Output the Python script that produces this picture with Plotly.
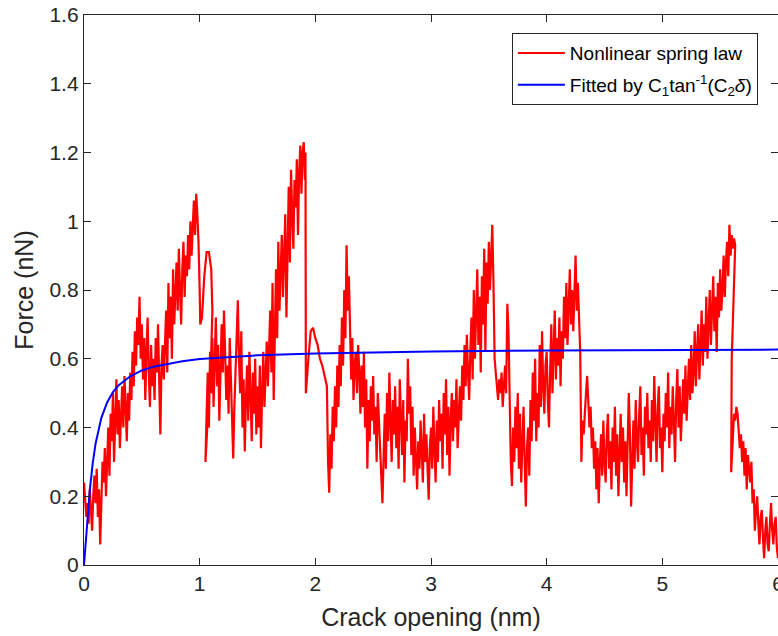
import plotly.graph_objects as go

# ---- data ----
# Rows of force values sampled every 0.01 nm of crack opening, starting at the given opening.
STEP = 0.01

start_0 = 0.00
force_0 = [0.24,0.20,0.14,0.18,0.12,0.22,0.16,0.10,0.20,0.26,
           0.18,0.28,0.14,0.22,0.06,0.16,0.30,0.24,0.34,0.20,
           0.32,0.40,0.26,0.44,0.36,0.50,0.30,0.46,0.54,0.38,
           0.48,0.34,0.44,0.52,0.40,0.55,0.46,0.36,0.50,0.42,
           0.56,0.48,0.62,0.52,0.68,0.58,0.72,0.64,0.78,0.60,
           0.70,0.54,0.66,0.48,0.62,0.72,0.56,0.46,0.64,0.52,
           0.60,0.48,0.66,0.56,0.70,0.52,0.38,0.58,0.64,0.54,
           0.62,0.74,0.56,0.82,0.66,0.78,0.60,0.86,0.70,0.80,
           0.88,0.74,0.92,0.80,0.70,0.86,0.94,0.78,0.90,0.84,
           0.96,0.86,1.00,0.90,0.98,1.06,0.96,1.08,1.02,0.94]

loop_opening = [1.00,1.005,1.02,1.04,1.06,1.08,1.10,1.11,1.10,1.08,1.06,1.05]
loop_force = [0.80,0.70,0.72,0.84,0.91,0.91,0.86,0.74,0.62,0.48,0.34,0.30]

start_1 = 1.06
force_1 = [0.44,0.56,0.40,0.62,
           0.50,0.66,0.46,0.58,0.72,0.52,0.64,0.42,0.60,0.70,
           0.56,0.74,0.62,0.48,0.58,0.44,0.66,0.52,0.40,0.31,
           0.46,0.58,0.66,0.77,0.60,0.50,0.68,0.40,0.54,0.33,
           0.48,0.58,0.42,0.62,0.50,0.36,0.56,0.44,0.60,0.38,
           0.52,0.40,0.58,0.34,0.50,0.62,0.46,0.56,0.65,0.52,
           0.62,0.74,0.56,0.82,0.48,0.70,0.86,0.66,0.94,0.74,
           0.84,0.96,0.78,0.92,1.02,0.72,0.98,1.10,0.88,1.15,
           1.02,0.92,1.12,1.04,1.18,0.96,1.14,1.22,1.08,1.20,
           1.23,1.12]

peak_opening = [1.915,1.918,1.94,1.96,1.98,2.00,2.02,2.04,2.06,2.08,2.10]
peak_force = [1.20,0.50,0.60,0.68,0.69,0.66,0.64,0.60,0.58,0.55,0.52]

start_2 = 2.11
force_2 = [0.30,0.21,0.38,0.28,0.46,0.36,0.52,0.40,0.58,
           0.46,0.64,0.52,0.72,0.58,0.80,0.66,0.93,0.74,0.84,
           0.62,0.54,0.66,0.48,0.58,0.62,0.50,0.64,0.56,0.44,
           0.58,0.46,0.62,0.40,0.54,0.28,0.48,0.36,0.52,0.42,
           0.55,0.38,0.46,0.30,0.50,0.40,0.34,0.26,0.18,0.36,
           0.44,0.28,0.50,0.36,0.56,0.42,0.30,0.48,0.38,0.52,
           0.34,0.46,0.28,0.54,0.40,0.32,0.48,0.24,0.42,0.36,
           0.60,0.44,0.52,0.32,0.46,0.26,0.40,0.30,0.22,0.36,
           0.28,0.42,0.34,0.24,0.44,0.30,0.38,0.26,0.19,0.34,
           0.40,0.28,0.46,0.34,0.24,0.42,0.30,0.48,0.36,0.44,
           0.28,0.50,0.38,0.54,0.32,0.46,0.26,0.42,0.50,0.36,
           0.48,0.40,0.54,0.34,0.46,0.52,0.42,0.58,0.48,0.64,
           0.52,0.67,0.56,0.48,0.62,0.72,0.54,0.80,0.60,0.76,
           0.86,0.64,0.78,0.56,0.84,0.70,0.92,0.62,0.88,0.76,
           0.94,0.80,0.90,0.99,0.82,0.60,0.56]

start_3 = 3.57
force_3 = [0.52,0.48,0.54,
           0.50,0.56,0.46,0.52,0.58,0.50,0.76,0.68,0.40,0.30,
           0.23,0.40,0.30,0.46,0.34,0.50,0.28,0.44,0.24,0.38,
           0.46,0.30,0.17,0.34,0.40,0.26,0.48,0.36,0.56,0.42,
           0.60,0.36,0.50,0.40,0.64,0.46,0.68,0.52,0.44,0.58,
           0.62,0.48,0.40,0.56,0.70,0.50,0.64,0.74,0.54,0.66,
           0.58,0.72,0.52,0.68,0.60,0.78,0.66,0.82,0.64,0.76,
           0.86,0.70,0.80,0.68,0.84,0.90,0.74,0.82,0.72,0.62,
           0.30,
           0.42,0.38,0.46,0.50,0.55,0.48,0.40,0.46,0.34,
           0.40,0.28,0.36,0.22,0.34,0.18,0.30,0.38,0.26,0.42,
           0.30,0.24,0.38,0.44,0.28,0.36,0.22,0.40,0.30,0.46,
           0.26,0.38,0.20,0.34,0.44,0.30,0.40,0.24,0.36,0.20,
           0.34,0.50,0.38,0.17,0.30,0.42,0.28,0.48,0.36,0.30,
           0.44,0.52,0.32,0.40,0.26,0.46,0.38,0.50,0.34,0.42,
           0.30,0.48,0.36,0.55,0.42,0.30,0.46,0.52,0.34,0.40,
           0.27,0.44,0.36,0.50,0.40,0.56,0.34,0.46,0.38,0.52,
           0.42,0.30,0.48,0.57,0.40,0.52,0.36,0.46,0.54,0.44,
           0.58,0.42,0.52,0.60,0.48,0.64,0.50,0.56,0.68,0.52,
           0.62,0.70,0.54,0.66,0.74,0.58,0.70,0.62,0.78,0.60,
           0.72,0.80,0.64,0.76,0.84,0.68,0.78,0.62,0.82,0.72,
           0.86,0.74,0.80,0.90,0.78,0.88,0.94,0.84,0.99]

drop_opening = [5.59,5.60,5.61,5.62,5.63,5.60,5.595]
drop_force = [0.90,0.96,0.92,0.95,0.93,0.60,0.27]

start_4 = 5.61
force_4 = [0.40,0.44,0.42,0.46,0.44,0.40,0.34,0.38,0.30,0.36,
           0.26,0.34,0.22,0.32,0.28,0.24,0.30,0.18,0.22,0.10,
           0.16,0.20,0.12,0.06,0.14,0.16,0.08,0.02,0.10,0.14,
           0.06,0.04,0.12,0.18,0.10,0.06,0.12,0.14,0.05,0.02]

fit_opening = [0, 0.01, 0.02, 0.035, 0.05, 0.075, 0.1, 0.15, 0.2, 0.25, 0.3, 0.4, 0.5, 0.6, 0.7, 0.85,
               1.0, 1.25, 1.5, 2.0, 2.5, 3.0, 4.0, 5.0, 6.0]
fit_force = [0, 0.048, 0.095, 0.160, 0.217, 0.295, 0.353, 0.428, 0.473, 0.503, 0.523, 0.549, 0.566, 0.577,
             0.584, 0.593, 0.599, 0.6055, 0.610, 0.6155, 0.6188, 0.621, 0.624, 0.6255, 0.6267]

x_ticks = [0, 1, 2, 3, 4, 5, 6]
y_ticks = [0, 0.2, 0.4, 0.6, 0.8, 1.0, 1.2, 1.4, 1.6]


def sampled(start, values):
    return [round(start + STEP * i, 4) for i in range(len(values))]


spring_x = (sampled(start_0, force_0) + loop_opening + sampled(start_1, force_1) + peak_opening
            + sampled(start_2, force_2) + sampled(start_3, force_3) + drop_opening + sampled(start_4, force_4))
spring_y = (force_0 + loop_force + force_1 + peak_force + force_2 + force_3 + drop_force + force_4)

FONT = "Liberation Sans, Arial, Helvetica, sans-serif"
AX = "#262626"

fig = go.Figure()
fig.add_trace(go.Scatter(x=spring_x, y=spring_y, mode="lines",
                         line=dict(color="#FF0000", width=2.2),
                         name="Nonlinear spring law", legendgroup="a"))
fig.add_trace(go.Scatter(x=fit_opening, y=fit_force, mode="lines",
                         line=dict(color="#0000FF", width=2),
                         name="Fitted by C<sub>1</sub>tan<sup>-1</sup>(C<sub>2</sub><i>δ</i>)",
                         legendgroup="b"))

axis_common = dict(showgrid=False, zeroline=False, showline=True, linecolor=AX, linewidth=1.3,
                   mirror="ticks", ticks="inside", ticklen=7, tickwidth=1.3, tickcolor=AX,
                   ticklabeloverflow="allow", automargin=False,
                   tickfont=dict(family=FONT, size=21, color=AX))

fig.update_layout(
    width=778, height=636,
    margin=dict(l=84, r=0, t=15, b=71, autoexpand=False),
    plot_bgcolor="white", paper_bgcolor="white",
    font=dict(family=FONT, color=AX),
    xaxis=dict(range=[0, 6], tickvals=x_ticks,
               title=dict(text="Crack opening (nm)", font=dict(family=FONT, size=25, color=AX), standoff=14),
               **axis_common),
    yaxis=dict(range=[0, 1.6], tickvals=y_ticks, ticktext=[("%g" % v) for v in y_ticks],
               title=dict(text="Force (nN)", font=dict(family=FONT, size=25, color=AX), standoff=8),
               **axis_common),
    legend=dict(x=0.971, y=0.967, xanchor="right", yanchor="top",
                bgcolor="white", bordercolor=AX, borderwidth=1,
                itemwidth=47, tracegroupgap=4,
                font=dict(family=FONT, size=19, color="#000000")),
    showlegend=True,
)

fig.write_html("out.html")
